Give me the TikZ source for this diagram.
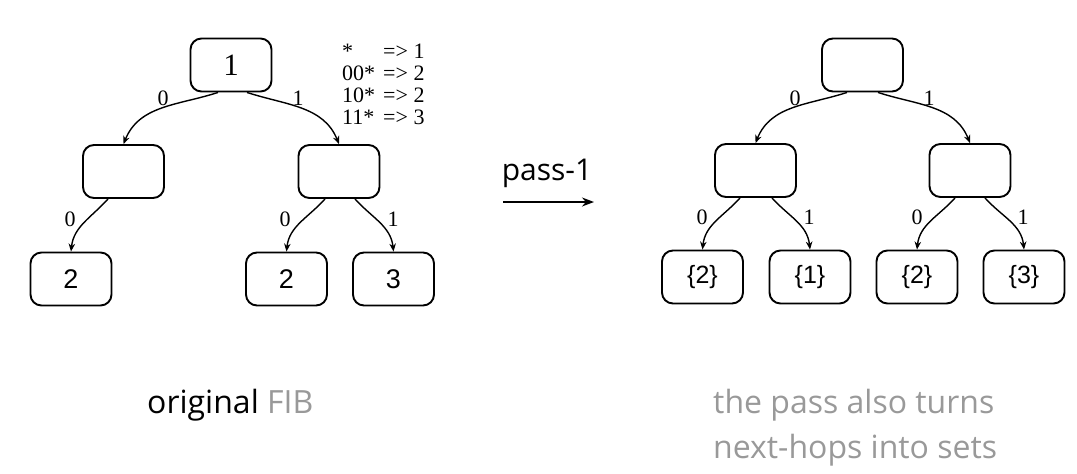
\documentclass[tikz,border=0pt]{standalone}
\usepackage{fontspec}
\setmainfont{Liberation Serif}
\newfontfamily\hvfont{Liberation Sans}
\newfontfamily\osfont{Open Sans}
\usetikzlibrary{arrows.meta}
\definecolor{fibgray}{RGB}{153,153,153}
\tikzset{
  tbox/.style={draw, line width=1.9pt, rounded corners=11pt, minimum width=81pt, minimum height=53pt, inner sep=0pt},
  edge/.style={line width=1.4pt, -{Stealth[length=8pt,width=6.5pt]}},
  elab/.style={font=\fontsize{22}{22}\selectfont, inner sep=0pt},
  rootlab/.style={font=\fontsize{31}{31}\selectfont},
  leaflab/.style={font=\hvfont\fontsize{27}{27}\selectfont},
  setlab/.style={font=\hvfont\fontsize{25}{25}\selectfont},
  captxt/.style={font=\osfont\fontsize{32}{45}\selectfont, inner sep=0pt},
}
\begin{document}
\begin{tikzpicture}[x=1pt,y=1pt]
\useasboundingbox (0,0) rectangle (1077,-474);
% ---------- left tree ----------
\node[tbox, rootlab] (lr) at (231,-65) {1};
\node[tbox] (lml) at (123.5,-171.5) {};
\node[tbox] (lmr) at (339,-171.5) {};
\node[tbox, leaflab] (ll1) at (71,-279) {2};
\node[tbox, leaflab] (ll2) at (286.5,-279) {2};
\node[tbox, leaflab] (ll3) at (393.5,-279) {3};
\draw[edge] ([xshift=-13pt]lr.south) to[out=198,in=68] (lml.north);
\draw[edge] ([xshift=16pt]lr.south) to[out=-18,in=112] (lmr.north);
\draw[edge] ([xshift=-15.5pt]lml.south) to[out=228,in=84] (ll1.north);
\draw[edge] ([xshift=-14pt]lmr.south) to[out=228,in=84] (ll2.north);
\draw[edge] ([xshift=16pt]lmr.south) to[out=-48,in=96] (ll3.north);
\node[elab] (la0) at (163,-98) {0};
\node[elab] (la1) at (298,-98) {1};
\node[elab] (lb0) at (70,-219) {0};
\node[elab] (lc0) at (285,-219) {0};
\node[elab] (lc1) at (393,-219) {1};
\node[anchor=base west, inner sep=0pt, font=\fontsize{22}{22}\selectfont] (tab) at (342,-58)
  {\begin{tabular}[t]{@{}l@{\hspace{8pt}}l@{}}
   * & => 1\\
   00* & => 2\\
   10* & => 2\\
   11* & => 3
   \end{tabular}};
% ---------- pass arrow ----------
\node[anchor=base, inner sep=0pt, font=\osfont\fontsize{30}{30}\selectfont] (pass) at (547,-180) {pass-1};
\coordinate (pa) at (503,-202);
\coordinate (pb) at (594,-202);
\draw[line width=1.4pt, -{Stealth[length=12pt,width=9pt]}] (pa) -- (pb);
% ---------- right tree ----------
\node[tbox] (rr) at (862.5,-65) {};
\node[tbox] (rml) at (755.5,-170.5) {};
\node[tbox] (rmr) at (970,-170.5) {};
\node[tbox, setlab] (rl1) at (702.5,-277) {\{2\}};
\node[tbox, setlab] (rl2) at (810,-277) {\{1\}};
\node[tbox, setlab] (rl3) at (917,-277) {\{2\}};
\node[tbox, setlab] (rl4) at (1024,-277) {\{3\}};
\draw[edge] ([xshift=-15.5pt]rr.south) to[out=198,in=68] (rml.north);
\draw[edge] ([xshift=15.5pt]rr.south) to[out=-18,in=112] (rmr.north);
\draw[edge] ([xshift=-15.5pt]rml.south) to[out=228,in=84] (rl1.north);
\draw[edge] ([xshift=16.5pt]rml.south) to[out=-48,in=96] (rl2.north);
\draw[edge] ([xshift=-15pt]rmr.south) to[out=228,in=84] (rl3.north);
\draw[edge] ([xshift=15pt]rmr.south) to[out=-48,in=96] (rl4.north);
\node[elab] (ra0) at (795,-98) {0};
\node[elab] (ra1) at (929,-98) {1};
\node[elab] (rb0) at (702,-217) {0};
\node[elab] (rb1) at (809,-217) {1};
\node[elab] (rc0) at (917,-217) {0};
\node[elab] (rc1) at (1023,-217) {1};
% ---------- captions ----------
\node[captxt, anchor=base west] (cap1) at (147,-413) {original \textcolor{fibgray}{FIB}};
\node[captxt, anchor=base west, text=fibgray] (cap2) at (713,-413)
  {\begin{tabular}[t]{@{}l@{}}the pass also turns\\ next-hops into sets\end{tabular}};
\end{tikzpicture}
\end{document}
